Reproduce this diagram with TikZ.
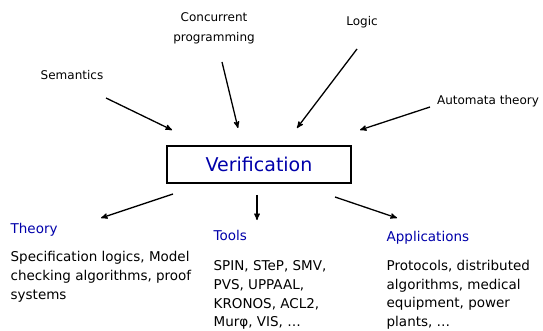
\documentclass[tikz,border=0pt]{standalone}
\usepackage{fontspec}
\setmainfont{DejaVu Sans}
\usetikzlibrary{arrows,positioning}
\definecolor{verifblue}{RGB}{0,0,170}

\begin{document}
\begin{tikzpicture}[x=1pt,y=-1pt,>=stealth',line width=1.3pt,
  every node/.style={inner sep=0pt,font=\fontsize{12}{20}\selectfont},
  topic/.style={align=center},
  head/.style={text=verifblue,anchor=base west,font=\fontsize{13.5}{18.7}\selectfont},
  body/.style={align=left,anchor=north west,font=\fontsize{13.5}{18.7}\selectfont}]
\useasboundingbox (0,0) rectangle (543,331);

% sources
\node[topic] (sem)   at (72,75)  {Semantics};
\node[topic] (conc)  at (214,28) {Concurrent\\programming};
\node[topic] (logic) at (362,22) {Logic};
\node[topic] (auto)  at (488,101) {Automata theory};

\node[draw,line width=1.3pt,minimum width=184pt,minimum height=37pt,
  text=verifblue,font=\fontsize{19}{24}\selectfont] (verif) at (259,164.5) {Verification};

% branches
\node[head] (theory) at (10,233.5)  {Theory};
\node[head] (tools)  at (213,240.5) {Tools};
\node[head] (apps)   at (386,241.5) {Applications};

\node[body] (theorytxt) at (10,250.8)  {Specification logics, Model\\checking algorithms, proof\\systems};
\node[body] (toolstxt)  at (213,260.2) {SPIN, STeP, SMV,\\PVS, UPPAAL,\\KRONOS, ACL2,\\Murφ, VIS, \dots};
\node[body] (appstxt)   at (386,259.6) {Protocols, distributed\\algorithms, medical\\equipment, power\\plants, \dots};

% arrow ends
\coordinate (semtail)  at (106,98);   \coordinate (semhead)  at (172,130);
\coordinate (conctail) at (222,62);   \coordinate (conchead) at (238,128);
\coordinate (logtail)  at (357,49);   \coordinate (loghead)  at (297,128);
\coordinate (autotail) at (430,107);  \coordinate (autohead) at (360,130);
\coordinate (thtail)   at (173,194);  \coordinate (thhead)   at (101,218);
\coordinate (tltail)   at (257,195);  \coordinate (tlhead)   at (257,220);
\coordinate (aptail)   at (335,197);  \coordinate (aphead)   at (397,218);

\path[->] (semtail)  edge (semhead)
          (conctail) edge (conchead)
          (logtail)  edge (loghead)
          (autotail) edge (autohead)
          (thtail)   edge (thhead)
          (tltail)   edge (tlhead)
          (aptail)   edge (aphead);

\end{tikzpicture}
\end{document}
